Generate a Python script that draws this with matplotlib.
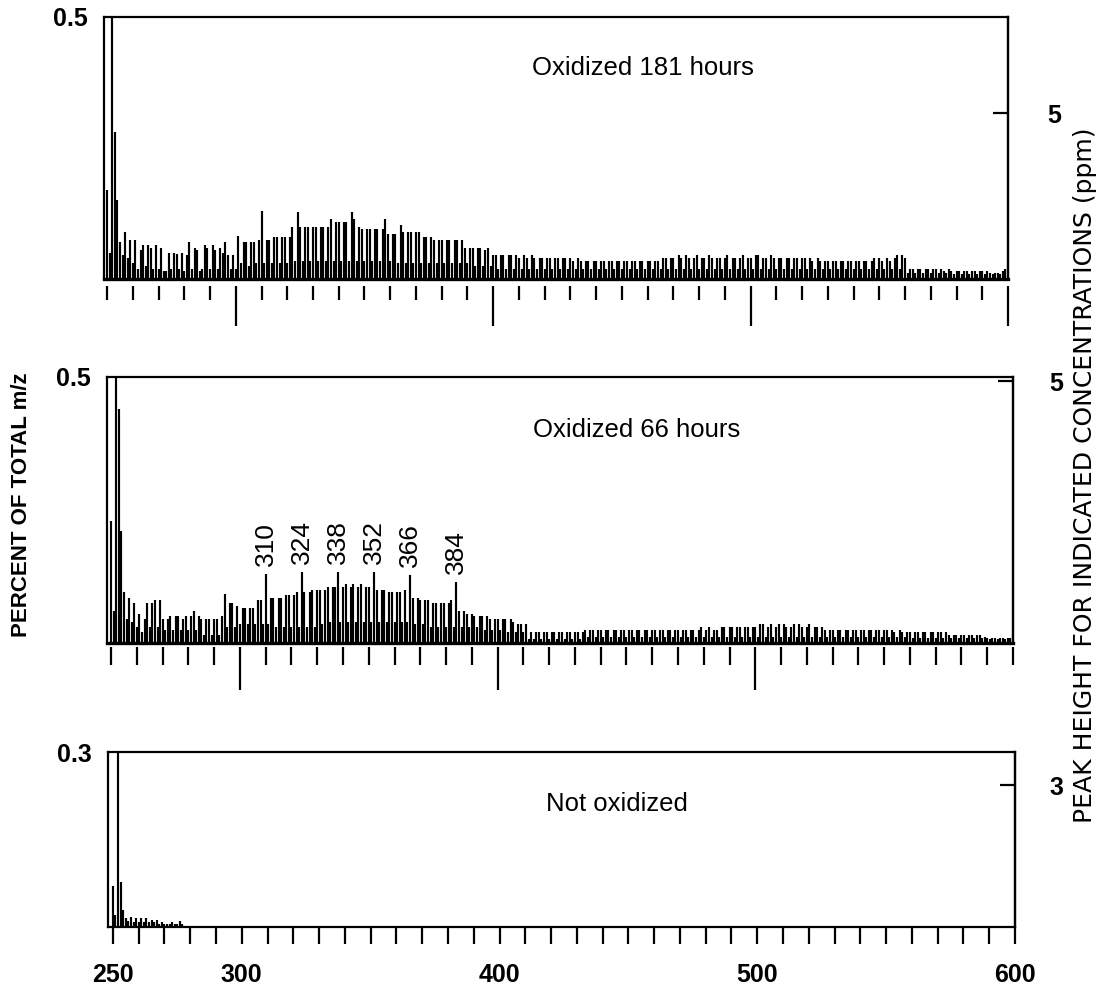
import numpy as np
import matplotlib
matplotlib.use('Agg')
import matplotlib.pyplot as plt
from matplotlib.ticker import MultipleLocator, FixedLocator

plt.rcParams['font.family'] = ['Liberation Sans', 'DejaVu Sans']

# m/z axis, one stick per unit mass
mz = np.arange(250, 601)

# peak heights in thousandths of a percent (10 masses per row)
h181 = [
    170, 50, 620, 280, 150, 70, 45, 89, 40, 75,
    30, 75, 20, 56, 64, 25, 64, 60, 20, 65,
    20, 60, 15, 15, 50, 20, 50, 48, 20, 50,
    15, 45, 70, 20, 60, 55, 15, 20, 64, 60,
    20, 64, 55, 20, 60, 50, 70, 45, 20, 45,
    20, 83, 30, 70, 70, 25, 70, 70, 30, 75,
    130, 30, 75, 75, 30, 80, 80, 30, 80, 80,
    30, 80, 100, 35, 128, 100, 35, 100, 100, 35,
    100, 100, 35, 100, 100, 35, 100, 115, 35, 108,
    108, 35, 108, 108, 35, 127, 115, 35, 100, 95,
    35, 95, 95, 35, 95, 95, 35, 95, 115, 85,
    35, 85, 85, 30, 104, 90, 30, 90, 90, 30,
    90, 90, 30, 80, 80, 30, 80, 75, 30, 75,
    75, 30, 75, 75, 30, 75, 75, 30, 75, 60,
    30, 60, 60, 25, 60, 60, 25, 55, 60, 25,
    45, 45, 20, 45, 45, 20, 45, 45, 20, 45,
    40, 20, 45, 40, 20, 45, 40, 20, 40, 40,
    20, 40, 40, 20, 40, 40, 20, 40, 40, 20,
    40, 35, 20, 40, 35, 20, 35, 35, 20, 35,
    35, 20, 35, 35, 20, 35, 35, 20, 35, 35,
    20, 35, 35, 20, 35, 35, 20, 35, 35, 20,
    35, 35, 20, 35, 35, 20, 40, 40, 20, 40,
    40, 20, 45, 40, 20, 45, 40, 20, 40, 45,
    20, 40, 40, 20, 45, 40, 20, 40, 40, 20,
    40, 45, 20, 40, 40, 20, 40, 45, 20, 40,
    40, 20, 45, 45, 20, 40, 40, 20, 45, 40,
    20, 40, 40, 20, 40, 40, 20, 40, 40, 20,
    40, 40, 20, 40, 35, 20, 40, 35, 20, 35,
    35, 20, 35, 35, 20, 35, 35, 20, 35, 35,
    20, 35, 35, 20, 35, 35, 20, 35, 40, 20,
    40, 35, 20, 40, 35, 20, 40, 45, 20, 45,
    40, 12, 20, 20, 12, 20, 20, 12, 20, 20,
    12, 20, 20, 12, 20, 15, 12, 20, 15, 10,
    15, 15, 10, 15, 15, 10, 15, 15, 10, 15,
    15, 10, 15, 12, 10, 12, 12, 10, 15, 20,
    20,
]

h66 = [
    230, 60, 620, 440, 210, 96, 45, 85, 40, 75,
    30, 55, 20, 45, 75, 30, 75, 80, 30, 80,
    45, 25, 45, 50, 25, 50, 50, 25, 45, 50,
    25, 50, 60, 25, 50, 45, 15, 45, 45, 15,
    45, 45, 15, 50, 93, 30, 75, 75, 30, 70,
    35, 65, 65, 35, 65, 65, 35, 80, 80, 35,
    129, 35, 85, 85, 30, 85, 85, 30, 90, 90,
    30, 90, 95, 30, 134, 95, 30, 95, 100, 30,
    100, 100, 35, 100, 105, 40, 105, 105, 134, 40,
    105, 110, 40, 105, 110, 40, 105, 110, 40, 105,
    105, 40, 134, 100, 40, 100, 100, 40, 95, 95,
    40, 95, 95, 40, 100, 40, 128, 85, 35, 85,
    80, 35, 80, 80, 30, 75, 75, 30, 75, 75,
    30, 75, 80, 30, 115, 60, 30, 60, 55, 30,
    55, 50, 30, 50, 50, 25, 50, 45, 25, 45,
    45, 25, 45, 45, 20, 45, 40, 20, 35, 35,
    20, 35, 8, 20, 8, 20, 20, 8, 20, 20,
    8, 20, 20, 8, 20, 20, 8, 20, 20, 8,
    20, 20, 8, 20, 25, 12, 25, 25, 12, 25,
    25, 12, 25, 25, 12, 25, 25, 12, 25, 25,
    12, 25, 25, 12, 25, 25, 12, 25, 25, 12,
    25, 25, 12, 25, 25, 12, 25, 25, 12, 25,
    25, 12, 25, 25, 12, 25, 25, 12, 25, 30,
    12, 25, 30, 12, 25, 25, 12, 30, 30, 12,
    30, 30, 12, 30, 30, 12, 30, 30, 12, 30,
    30, 12, 35, 35, 12, 30, 35, 12, 30, 35,
    12, 35, 30, 12, 30, 35, 12, 35, 30, 12,
    30, 35, 12, 30, 30, 12, 30, 25, 12, 25,
    25, 12, 25, 25, 12, 25, 25, 12, 25, 25,
    12, 25, 25, 12, 25, 25, 12, 25, 25, 12,
    25, 25, 12, 25, 20, 12, 25, 20, 12, 20,
    20, 10, 20, 20, 10, 20, 20, 10, 20, 20,
    10, 20, 20, 10, 20, 15, 10, 15, 15, 10,
    15, 15, 10, 15, 15, 10, 15, 15, 10, 12,
    10, 8, 10, 10, 8, 10, 10, 8, 10, 10,
    15,
]

h0 = [
    70, 20, 620, 78, 30, 15, 10, 18, 8, 15,
    8, 15, 8, 15, 8, 12, 8, 12, 5, 8,
    5, 5, 5, 8, 5, 5, 10, 5, 0, 0,
] + [0] * 321

series = [h181, h66, h0]
titles = ['Oxidized 181 hours', 'Oxidized 66 hours', 'Not oxidized']
pct_top = [0.5, 0.5, 0.3]
pct_labels = ['0.5', '0.5', '0.3']
ppm_tick = [5, 5, 3]
labelled = [310, 324, 338, 352, 366, 384]

W, H = 1096, 994
fig = plt.figure(figsize=(W / 100, H / 100), dpi=100)


def box(left, right, top, bottom):
    return [left / W, 1 - bottom / H, (right - left) / W, (bottom - top) / H]


# layout of the three panels in pixels: spine left/right, top, baseline
panels = [
    dict(pos=box(104, 1008, 17, 279), xmin=248.8, ppm_top=7.9, title_xy=(0.596, 0.805),
         majors=[300, 400, 500, 600], minor_len=10, major_len=29, gap=5, rpad=28),
    dict(pos=box(107, 1013, 377, 643), xmin=248.4, ppm_top=5.08, title_xy=(0.585, 0.80),
         majors=[300, 400, 500], minor_len=13, major_len=31, gap=3, rpad=26),
    dict(pos=box(108, 1015, 752, 927), xmin=248.1, ppm_top=3.7, title_xy=(0.561, 0.703),
         majors=[250, 300, 400, 500, 600], minor_len=12, major_len=12, gap=0, rpad=25),
]

for i, p in enumerate(panels):
    ax = fig.add_axes(p['pos'])
    heights = np.array(series[i]) / 1000.0
    ax.vlines(mz, 0, heights, color='black', lw=1.55)
    ax.set_xlim(p['xmin'], 600)
    ax.set_ylim(0, pct_top[i])

    for s in ax.spines.values():
        s.set_linewidth(1.6)

    ax.xaxis.set_major_locator(FixedLocator(p['majors']))
    ax.xaxis.set_minor_locator(MultipleLocator(10))
    ax.tick_params(axis='x', which='major', direction='out', length=p['major_len'], width=1.6)
    ax.tick_params(axis='x', which='minor', direction='out', length=p['minor_len'], width=1.6)

    if i < 2:
        ax.spines['bottom'].set_position(('outward', p['gap']))
        ax.spines['bottom'].set_visible(False)
        ax.axhline(0, color='black', lw=2.4, clip_on=False)
        ax.tick_params(axis='x', labelbottom=False)
    else:
        ax.set_xticklabels([str(v) for v in p['majors']])
        ax.tick_params(axis='x', which='major', pad=14, labelsize=18)
        for lbl in ax.get_xticklabels():
            lbl.set_fontweight('bold')

    ax.set_yticks([pct_top[i]])
    ax.set_yticklabels([pct_labels[i]])
    ax.tick_params(axis='y', length=0, pad=12, labelsize=18)
    for lbl in ax.get_yticklabels():
        lbl.set_fontweight('bold')

    ax.text(p['title_xy'][0], p['title_xy'][1], titles[i], transform=ax.transAxes,
            ha='center', va='center', fontsize=18.5)

    if i == 1:
        for m in labelled:
            ax.text(m, heights[m - 250] + 0.015, str(m), rotation=90,
                    ha='center', va='bottom', fontsize=19)

    ax2 = ax.twinx()
    ax2.set_ylim(0, p['ppm_top'])
    ax2.set_yticks([ppm_tick[i]])
    ax2.tick_params(axis='y', direction='in', length=11, width=1.6, pad=p['rpad'], labelsize=18)
    for lbl in ax2.get_yticklabels():
        lbl.set_fontweight('bold')
    for side in ['left', 'top', 'bottom']:
        ax2.spines[side].set_visible(False)
    ax2.spines['right'].set_linewidth(1.6)

fig.text(22 / W, 1 - 505 / H, 'PERCENT OF TOTAL m/z', rotation=90,
         ha='center', va='center', fontsize=16, fontweight='bold')
fig.text(1085 / W, 1 - 475 / H, 'PEAK HEIGHT FOR INDICATED CONCENTRATIONS (ppm)',
         rotation=90, ha='center', va='center', fontsize=18, family=['DejaVu Sans'])

fig.savefig('out.png', dpi=100)
